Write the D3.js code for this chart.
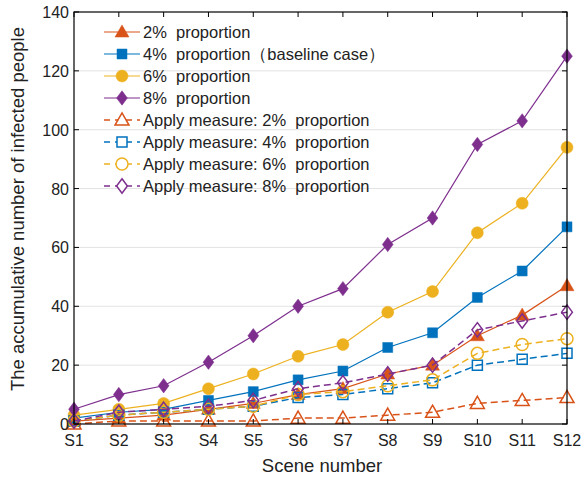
<!DOCTYPE html>
<html><head><meta charset="utf-8">
<script src="https://cdn.jsdelivr.net/npm/d3@7/dist/d3.min.js"></script>
<style>body{margin:0;background:#fff}svg{display:block}text{font-family:"Liberation Sans",Arial,sans-serif;fill:#222;white-space:pre}</style>
</head><body><svg id="c" width="581" height="479"></svg>
<script>
const categories = ["S1","S2","S3","S4","S5","S6","S7","S8","S9","S10","S11","S12"];
const yTicks = [0,20,40,60,80,100,120,140];
const p2 = [1,2,3,5,7,10,12,17,20,30,37,47];
const p4 = [2,4,5,8,11,15,18,26,31,43,52,67];
const p6 = [3,5,7,12,17,23,27,38,45,65,75,94];
const p8 = [5,10,13,21,30,40,46,61,70,95,103,125];
const m2 = [0,1,1,1,1,2,2,3,4,7,8,9];
const m4 = [1,3,4,5,6,9,10,12,14,20,22,24];
const m6 = [1,3,4,5,6,10,11,13,15,24,27,29];
const m8 = [1,4,5,6,8,12,14,17,20,32,35,38];
const seriesNames = ["2%  proportion","4%  proportion（baseline case）","6%  proportion","8%  proportion",
  "Apply measure: 2%  proportion","Apply measure: 4%  proportion","Apply measure: 6%  proportion","Apply measure: 8%  proportion"];

const colors = ["#D95319","#0072BD","#EDB120","#7E2F8E"];
const series = [
  {name:seriesNames[0], v:p2, c:colors[0], m:"tri", fill:true, dash:null},
  {name:seriesNames[1], v:p4, c:colors[1], m:"sq", fill:true, dash:null},
  {name:seriesNames[2], v:p6, c:colors[2], m:"ci", fill:true, dash:null},
  {name:seriesNames[3], v:p8, c:colors[3], m:"di", fill:true, dash:null},
  {name:seriesNames[4], v:m2, c:colors[0], m:"tri", fill:false, dash:"7,4"},
  {name:seriesNames[5], v:m4, c:colors[1], m:"sq", fill:false, dash:"7,4"},
  {name:seriesNames[6], v:m6, c:colors[2], m:"ci", fill:false, dash:"7,4"},
  {name:seriesNames[7], v:m8, c:colors[3], m:"di", fill:false, dash:"7,4"}
];

const L=74, R=567, T=12, B=424;
const svg = d3.select("#c");
const x = d3.scalePoint().domain(categories).range([L,R]).padding(0);
const y = d3.scaleLinear().domain([0,140]).range([B,T]);

// grid
svg.append("g").selectAll("line").data(yTicks.filter(d=>d>0&&d<140)).join("line")
  .attr("x1",L).attr("x2",R).attr("y1",d=>y(d)).attr("y2",d=>y(d))
  .attr("stroke","#e3e3e3").attr("stroke-width",1);

function markerPath(type, s){
  if(type==="tri") return d3.symbol(d3.symbolTriangle, s*s*0.5)();
  if(type==="sq") return `M${-s/2},${-s/2}H${s/2}V${s/2}H${-s/2}Z`;
  if(type==="ci") return d3.symbol(d3.symbolCircle, Math.PI*(s/2)*(s/2))();
  if(type==="di") return `M0,${-s*0.6}L${s*0.45},0L0,${s*0.6}L${-s*0.45},0Z`;
}
const msize = {tri:13, sq:10, ci:12, di:12};

const line = d3.line().x((d,i)=>x(categories[i])).y(d=>y(d));
series.forEach(s=>{
  const g = svg.append("g");
  g.append("path").attr("d",line(s.v)).attr("fill","none").attr("stroke",s.c)
    .attr("stroke-width",s.fill?1.2:1.5).attr("stroke-dasharray",s.dash);
  g.selectAll("path.mk").data(s.v).join("path").attr("class","mk")
    .attr("transform",(d,i)=>`translate(${x(categories[i])},${y(d)+(s.m==="tri"?1:0)})`)
    .attr("d",markerPath(s.m, msize[s.m]))
    .attr("fill",s.fill?s.c:"none").attr("stroke",s.c).attr("stroke-width",s.fill?0.5:1.5);
});

// axes box
const ax = svg.append("g");
ax.append("rect").attr("x",L).attr("y",T).attr("width",R-L).attr("height",B-T)
  .attr("fill","none").attr("stroke","#000").attr("stroke-width",1.2);
const tk = 5;
categories.forEach(c=>{
  const xx=x(c);
  ax.append("line").attr("x1",xx).attr("x2",xx).attr("y1",B).attr("y2",B-tk).attr("stroke","#000");
  ax.append("line").attr("x1",xx).attr("x2",xx).attr("y1",T).attr("y2",T+tk).attr("stroke","#000");
  ax.append("text").attr("x",xx).attr("y",B+22).attr("text-anchor","middle").attr("font-size",16).text(c);
});
yTicks.forEach(v=>{
  const yy=y(v);
  ax.append("line").attr("x1",L).attr("x2",L+tk).attr("y1",yy).attr("y2",yy).attr("stroke","#000");
  ax.append("line").attr("x1",R).attr("x2",R-tk).attr("y1",yy).attr("y2",yy).attr("stroke","#000");
  ax.append("text").attr("x",L-5).attr("y",yy+6).attr("text-anchor","end").attr("font-size",16).text(v);
});
svg.append("text").attr("x",322).attr("y",472).attr("text-anchor","middle").attr("font-size",18.5).text("Scene number");
svg.append("text").attr("transform",`translate(23.5,209) rotate(-90)`).attr("text-anchor","middle").attr("font-size",18.5)
  .text("The accumulative number of infected people");

// legend
const lg = svg.append("g");
series.forEach((s,i)=>{
  const yy = 32 + i*22;
  const g = lg.append("g");
  g.append("line").attr("x1",104).attr("x2",140).attr("y1",yy).attr("y2",yy).attr("stroke",s.c)
    .attr("stroke-width",s.fill?1.2:1.5).attr("stroke-dasharray",s.dash?"6,5":null);
  g.append("path").attr("transform",`translate(122,${yy+(s.m==="tri"?1:0)})`).attr("d",markerPath(s.m, msize[s.m]))
    .attr("fill",s.fill?s.c:"#fff").attr("stroke",s.c).attr("stroke-width",s.fill?0.5:1.5);
  g.append("text").attr("x",143).attr("y",yy+6).attr("font-size",16.5).text(s.name);
});
</script></body></html>
